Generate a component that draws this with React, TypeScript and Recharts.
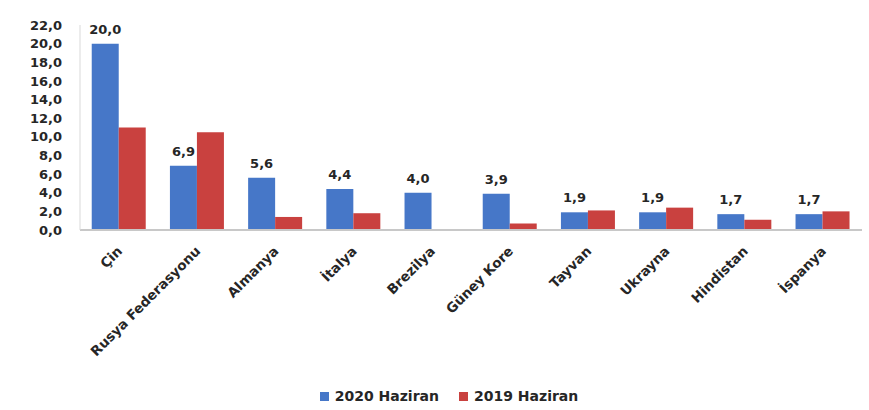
import React from 'react';
import { BarChart, Bar, XAxis, YAxis, Legend, LabelList } from 'recharts';

const countries = ['Çin', 'Rusya Federasyonu', 'Almanya', 'İtalya', 'Brezilya', 'Güney Kore', 'Tayvan', 'Ukrayna', 'Hindistan', 'İspanya'];
const june2020 = [20.0, 6.9, 5.6, 4.4, 4.0, 3.9, 1.9, 1.9, 1.7, 1.7];
const june2019 = [11.0, 10.5, 1.4, 1.8, 0.1, 0.7, 2.1, 2.4, 1.1, 2.0];
const yTicks = [0, 2, 4, 6, 8, 10, 12, 14, 16, 18, 20, 22];

const data = countries.map((name, i) => ({ name, june2020: june2020[i], june2019: june2019[i] }));

const FONT = '"DejaVu Sans", sans-serif';
const fmt = (v: number) => v.toFixed(1).replace('.', ',');

const CountryTick = (props: any) => {
  const { x, y, payload } = props;
  return (
    <g transform={`translate(${x + 4},${y + 14})`}>
      <text
        textAnchor="end"
        transform="rotate(-45)"
        fontFamily={FONT}
        fontWeight="bold"
        fontSize={13.5}
        fill="#262626"
      >
        {payload.value}
      </text>
    </g>
  );
};

// keep the series order (recharts sorts legend items by name otherwise)
const SeriesLegend = (props: any) => {
  const items = props.payload || [];
  return (
    <div style={{ display: 'flex', justifyContent: 'center', paddingLeft: 36 }}>
      {items
        .slice()
        .sort((a: any, b: any) => (a.dataKey === 'june2020' ? -1 : b.dataKey === 'june2020' ? 1 : 0))
        .map((it: any, i: number) => (
          <div key={it.value} style={{ display: 'flex', alignItems: 'center', marginLeft: i ? 20 : 0 }}>
            <span style={{ display: 'inline-block', width: 9, height: 9, background: it.color, marginRight: 6 }} />
            <span style={{ fontFamily: FONT, fontWeight: 'bold', fontSize: 14, color: '#262626' }}>{it.value}</span>
          </div>
        ))}
    </div>
  );
};

const App: React.FC = () => {
  return (
    <div style={{ position: 'absolute', left: 0, top: 0, width: 869, height: 410, background: '#fff' }}>
      <BarChart
        width={869}
        height={410}
        data={data}
        margin={{ top: 25, right: 7, left: 0, bottom: 4 }}
        barCategoryGap="15%"
        barGap={0}
      >
        <XAxis
          dataKey="name"
          interval={0}
          tick={<CountryTick />}
          tickLine={false}
          axisLine={{ stroke: '#c8c8c8', strokeWidth: 2 }}
          height={150}
        />
        <YAxis
          domain={[0, 22]}
          ticks={yTicks}
          interval={0}
          tickFormatter={fmt}
          tickLine={false}
          tickSize={0}
          tickMargin={18}
          axisLine={{ stroke: '#d9d9d9' }}
          width={80}
          tick={{ fontFamily: FONT, fontWeight: 'bold', fontSize: 13, fill: '#262626' }}
        />
        <Legend
          verticalAlign="bottom"
          height={26}
          content={<SeriesLegend />}
          wrapperStyle={{ top: 388 }}
        />
        <Bar dataKey="june2020" name="2020 Haziran" fill="#4677c8" isAnimationActive={false}>
          <LabelList
            dataKey="june2020"
            position="top"
            offset={10}
            formatter={(v: any) => fmt(Number(v))}
            style={{ fontFamily: FONT, fontWeight: 'bold', fontSize: 13, fill: '#262626' }}
          />
        </Bar>
        <Bar dataKey="june2019" name="2019 Haziran" fill="#c9413f" isAnimationActive={false} />
      </BarChart>
    </div>
  );
};

export default App;
